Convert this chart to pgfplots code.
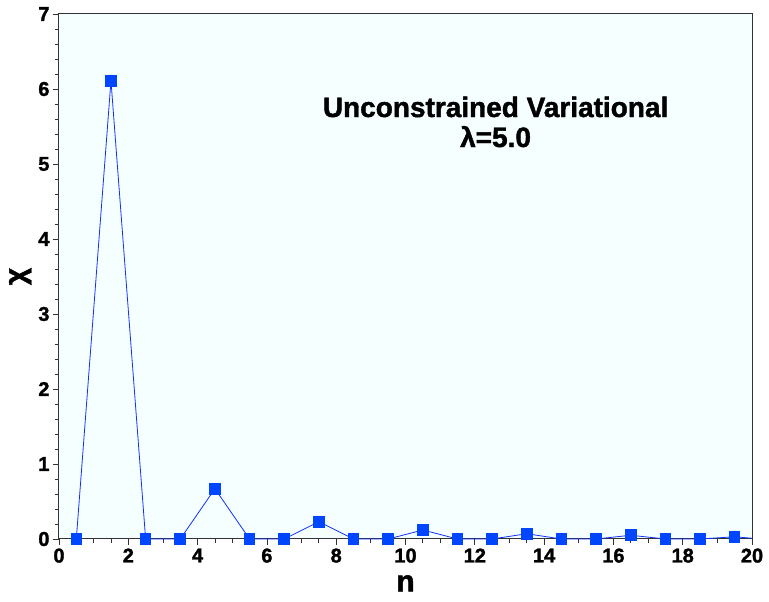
\documentclass[border=0pt]{standalone}
\usepackage{fontspec}
\setmainfont{Liberation Sans}[BoldFeatures={FakeBold=1.5}]
\usepackage{pgfplots}
\pgfplotsset{compat=1.18}
\definecolor{bg}{HTML}{F5FFFF}
\definecolor{mk}{HTML}{0045FF}
\definecolor{ln}{HTML}{1030FF}
\begin{document}
\begin{tikzpicture}
\useasboundingbox (-59pt,-63pt) rectangle (710pt,539pt);
\begin{axis}[
  scale only axis,
  width=693pt, height=525pt,
  xmin=0, xmax=20, ymin=0, ymax=7,
  axis background/.style={fill=bg},
  axis line style={line width=1pt, black!80},
  xtick={0,2,...,20}, ytick={0,1,...,7},
  minor x tick num=3, minor y tick num=4,
  tick align=outside,
  xtick pos=bottom, ytick pos=left,
  major tick length=6pt, minor tick length=4pt,
  tick style={black!80, line width=0.8pt},
  /pgf/number format/assume math mode=true,
  ticklabel style={font=\fontsize{20}{20}\selectfont\bfseries},
  xticklabel style={yshift=0pt},
  xlabel={n}, ylabel={χ},
  xlabel style={font=\fontsize{30}{30}\selectfont\bfseries, yshift=-8pt, inner sep=1pt},
  ylabel style={font=\fontsize{30}{30}\selectfont\bfseries, yshift=0pt},
  clip=false,
]
\addplot[color=ln, line width=0.8pt, mark=square*, mark size=5.3pt,
  mark options={fill=mk, draw=mk, line width=0pt}]
coordinates {
(0.5,0) (1.5,6.11) (2.5,0) (3.5,0) (4.5,0.67) (5.5,0) (6.5,0) (7.5,0.23)
(8.5,0) (9.5,0) (10.5,0.12) (11.5,0) (12.5,0) (13.5,0.07) (14.5,0)
(15.5,0) (16.5,0.05) (17.5,0) (18.5,0) (19.5,0.03)
};
\addplot[color=ln, line width=0.8pt] coordinates {(19.5,0.03) (20,0.01)};
\node[align=center, font=\fontsize{28}{30}\selectfont\bfseries] at (axis cs:12.6,5.56)
  {Unconstrained Variational\\ λ=5.0};
\end{axis}
\end{tikzpicture}
\end{document}
